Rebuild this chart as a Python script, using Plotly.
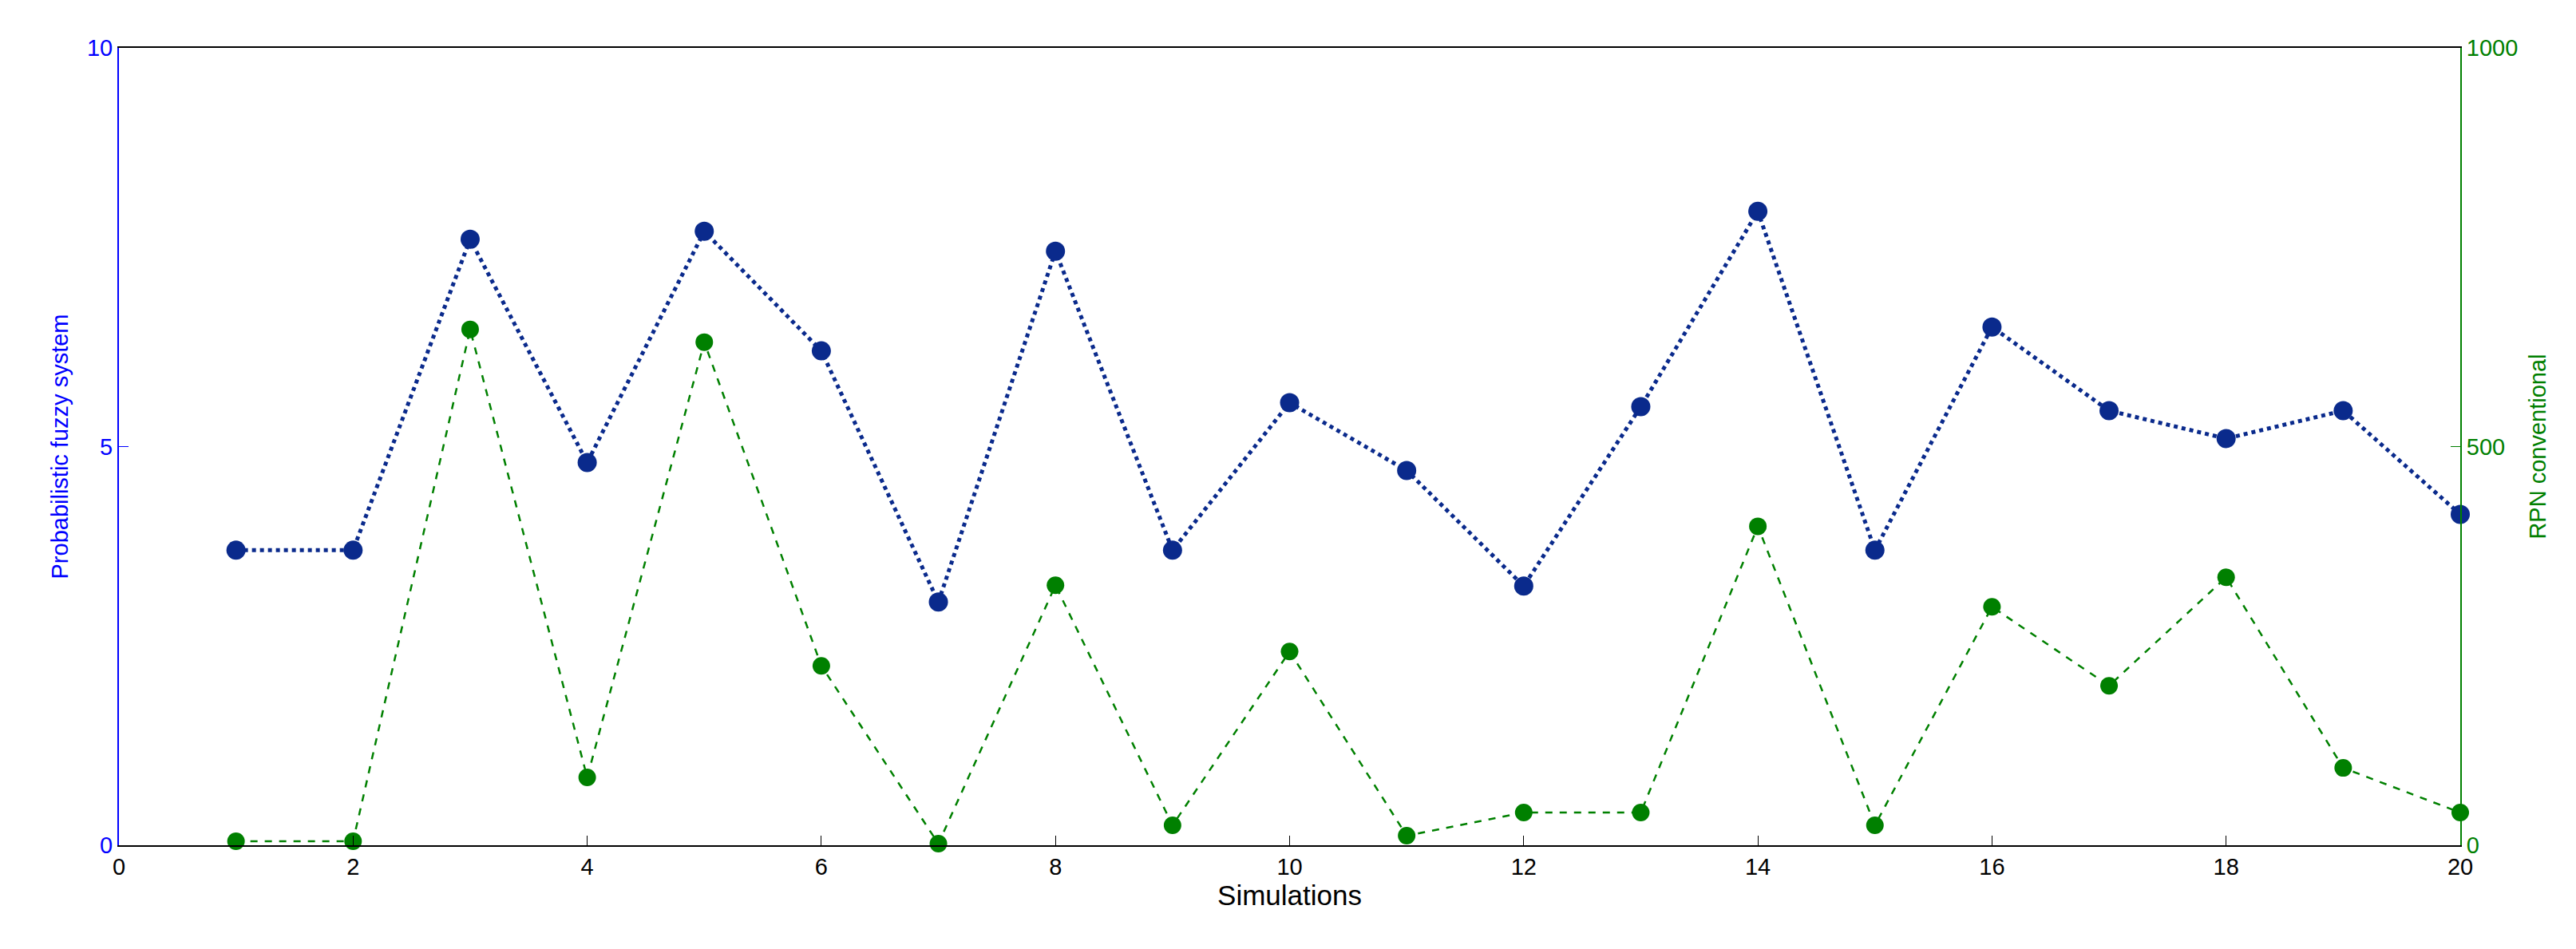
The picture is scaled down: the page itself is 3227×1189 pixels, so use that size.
import plotly.graph_objects as go

sims = list(range(1, 21))
fuzzy = [3.7, 3.7, 7.6, 4.8, 7.7, 6.2, 3.05, 7.45, 3.7, 5.55, 4.7, 3.25, 5.5, 7.95, 3.7, 6.5, 5.45, 5.1, 5.45, 4.15]
rpn = [5, 5, 647, 85, 631, 225, 2, 326, 25, 243, 12, 41, 41, 400, 25, 299, 200, 336, 97, 41]

fig = go.Figure()
fig.add_trace(go.Scatter(x=sims, y=fuzzy, mode="lines+markers", cliponaxis=False,
    line=dict(color="#0a2a8c", width=5, dash="dot"),
    marker=dict(size=24, color="#0a2a8c"), yaxis="y"))
fig.add_trace(go.Scatter(x=sims, y=rpn, mode="lines+markers", cliponaxis=False,
    line=dict(color="#008000", width=2.5, dash="dash"),
    marker=dict(size=22, color="#008000"), yaxis="y2"))

font = dict(family="Liberation Sans, Arial", size=29, color="black")
fig.update_layout(
    width=3227, height=1189, showlegend=False,
    plot_bgcolor="white", paper_bgcolor="white", font=font,
    margin=dict(l=141, r=153, t=52, b=138),
    xaxis=dict(range=[0, 20], tickvals=list(range(0, 21, 2)), ticks="inside", ticklen=12,
               showline=True, linecolor="black", linewidth=2, mirror=True, showgrid=False,
               zeroline=False, title=dict(text="Simulations", standoff=6, font=dict(color="black")),
               tickfont=dict(size=29, color="black"), tickcolor="black"),
    yaxis=dict(range=[0, 10], tickvals=[0, 5, 10], ticks="inside", ticklen=12,
               showline=True, linecolor="blue", linewidth=2, showgrid=False, zeroline=False,
               tickfont=dict(color="blue", size=29), tickcolor="blue",
               title=dict(text="Probabilistic fuzzy system", font=dict(color="blue", size=29))),
    yaxis2=dict(range=[0, 1000], tickvals=[0, 500, 1000], ticks="inside", ticklen=12,
                overlaying="y", side="right", showline=True, linecolor="green", linewidth=2,
                showgrid=False, zeroline=False, tickcolor="green",
                tickfont=dict(color="green", size=29),
                title=dict(text="RPN conventional", font=dict(color="green", size=29))),
)
fig.write_html("out.html")
